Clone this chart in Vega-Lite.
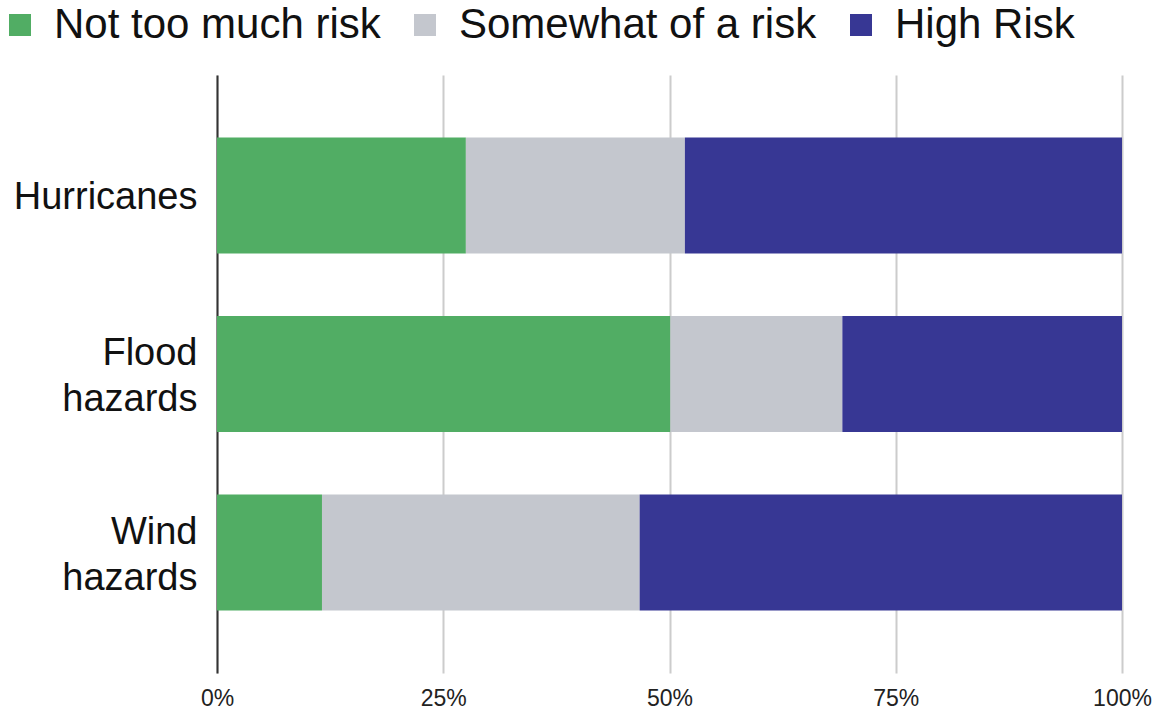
{
  "$schema": "https://vega.github.io/schema/vega-lite/v6.json",
  "width": 905,
  "height": 598,
  "autosize": {"type": "none"},
  "padding": {"left": 217, "top": 75, "right": 35, "bottom": 41},
  "background": "white",
  "data": {
    "values": [
      {"hazard": "Hurricanes", "risk": "Not too much risk", "k": 1, "value": 27.5},
      {"hazard": "Hurricanes", "risk": "Somewhat of a risk", "k": 2, "value": 24.2},
      {"hazard": "Hurricanes", "risk": "High Risk", "k": 3, "value": 48.3},
      {"hazard": "Flood hazards", "risk": "Not too much risk", "k": 1, "value": 50.1},
      {"hazard": "Flood hazards", "risk": "Somewhat of a risk", "k": 2, "value": 19.0},
      {"hazard": "Flood hazards", "risk": "High Risk", "k": 3, "value": 30.9},
      {"hazard": "Wind hazards", "risk": "Not too much risk", "k": 1, "value": 11.6},
      {"hazard": "Wind hazards", "risk": "Somewhat of a risk", "k": 2, "value": 35.1},
      {"hazard": "Wind hazards", "risk": "High Risk", "k": 3, "value": 53.3}
    ]
  },
  "mark": {"type": "bar"},
  "encoding": {
    "y": {
      "field": "hazard",
      "type": "nominal",
      "sort": ["Hurricanes", "Flood hazards", "Wind hazards"],
      "scale": {"paddingInner": 0.35, "paddingOuter": 0.35},
      "axis": {
        "title": null,
        "ticks": false,
        "domain": true,
        "domainColor": "#333333",
        "domainWidth": 2,
        "labelFont": "Liberation Sans",
        "labelFontSize": 38,
        "labelColor": "#111111",
        "labelPadding": 20,
        "labelLimit": 400,
        "labelLineHeight": 46,
        "labelOffset": {"condition": {"test": "datum.value != 'Hurricanes'", "value": -20}, "value": 3},
        "labelExpr": "datum.label == 'Hurricanes' ? datum.label : split(datum.label, ' ')"
      }
    },
    "x": {
      "field": "value",
      "type": "quantitative",
      "stack": "normalize",
      "scale": {"domain": [0, 1]},
      "axis": {
        "title": null,
        "format": ".0%",
        "values": [0, 0.25, 0.5, 0.75, 1],
        "ticks": false,
        "domain": false,
        "grid": true,
        "gridColor": "#cccccc",
        "gridWidth": 2,
        "labelFlush": false,
        "labelFont": "Liberation Sans",
        "labelFontSize": 23,
        "labelColor": "#222222",
        "labelPadding": 14
      }
    },
    "color": {
      "field": "risk",
      "type": "nominal",
      "sort": ["Not too much risk", "Somewhat of a risk", "High Risk"],
      "scale": {
        "domain": ["Not too much risk", "Somewhat of a risk", "High Risk"],
        "range": ["#51ad64", "#c4c7ce", "#373794"]
      },
      "legend": {
        "title": null,
        "orient": "none",
        "legendX": -218,
        "legendY": -71,
        "padding": 0,
        "direction": "horizontal",
        "symbolType": "square",
        "symbolSize": 484,
        "symbolStrokeWidth": 0,
        "symbolOpacity": 1,
        "labelFont": "Liberation Sans",
        "labelFontSize": 42,
        "labelLimit": 600,
        "labelColor": "#111111",
        "labelOffset": 13,
        "columnPadding": 23
      }
    },
    "order": {"field": "k", "type": "quantitative"}
  },
  "config": {"view": {"stroke": null}}
}
